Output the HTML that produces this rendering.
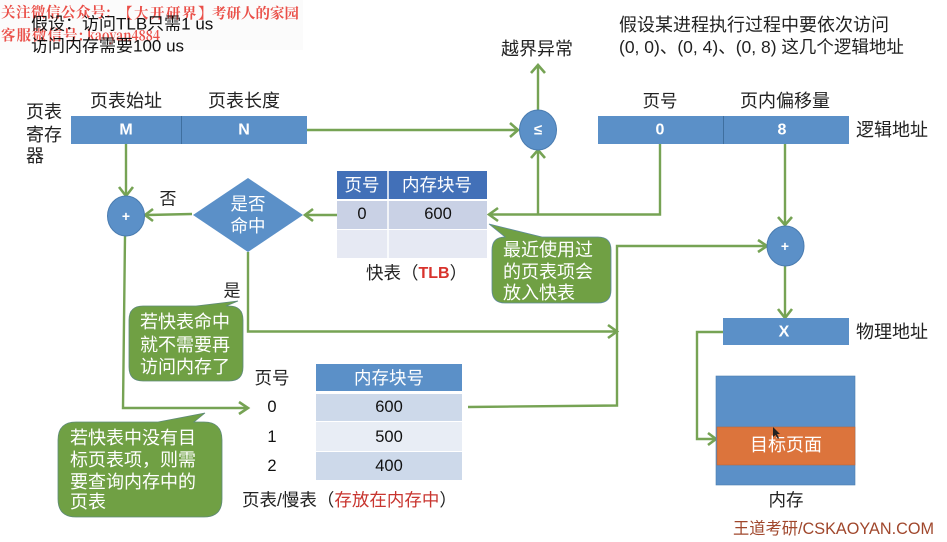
<!DOCTYPE html>
<html><head><meta charset="utf-8">
<style>
html,body{margin:0;padding:0;background:#fff;width:947px;height:542px;overflow:hidden}
svg{display:block;filter:blur(.35px)}
text{font-family:"Liberation Sans","Noto Sans CJK SC",sans-serif;font-size:17.5px;fill:#222;dominant-baseline:central}
.w{fill:#fff}
.c{text-anchor:middle}
.l{fill:none;stroke:#76a354;stroke-width:2.4}
.h{fill:none;stroke:#76a354;stroke-width:2.6}
.r{fill:#d8322c}
.b{font-weight:bold}
.wm{fill:#ea4f48;font-family:"Noto Serif CJK SC","Liberation Serif",serif;font-size:14.500px;font-weight:bold}
</style></head><body>
<svg width="947" height="542" viewBox="0 0 947 542" xmlns="http://www.w3.org/2000/svg">
<rect width="947" height="542" fill="#fff"/>
<rect x="0" y="0" width="303" height="50" fill="#fbfbfb"/>

<!-- watermark -->
<text x="1" y="12" class="wm" style="letter-spacing:.5px">关注微信公众号:</text>
<text x="118" y="13" class="wm" style="letter-spacing:1.500px">【大开研界】</text>
<text x="212" y="13" class="wm">考研人的家园</text>
<text x="1" y="35" class="wm" style="letter-spacing:1px">客服微信号:</text>
<text x="87" y="35" class="wm" textLength="73" lengthAdjust="spacingAndGlyphs">kaoyan4884</text>

<!-- top left text -->
<text x="31" y="24" style="font-size:17px;fill:#111">假设：访问TLB只需1 us</text>
<text x="31" y="46" style="font-size:17px;fill:#111">访问内存需要100 us</text>

<!-- top right text -->
<text x="619" y="25" style="font-size:18px">假设某进程执行过程中要依次访问</text>
<text x="619" y="47" style="font-size:17.500px">(0, 0)、(0, 4)、(0, 8) 这几个逻辑地址</text>

<!-- register -->
<text x="26" y="112" style="font-size:18px">页表</text>
<text x="26" y="135" style="font-size:18px">寄存</text>
<text x="26" y="156" style="font-size:18px">器</text>
<text x="126" y="101" class="c" style="font-size:18px">页表始址</text>
<text x="244" y="101" class="c" style="font-size:18px">页表长度</text>
<rect x="71" y="116" width="236" height="28" fill="#5b90c8"/>
<line x1="181.500" y1="116" x2="181.500" y2="144" stroke="#3f6f9f"/>
<text x="126" y="130" class="w c b" style="font-size:16px">M</text>
<text x="244" y="130" class="w c b" style="font-size:16px">N</text>

<!-- logical address -->
<text x="660" y="101" class="c" style="font-size:17.500px">页号</text>
<text x="785" y="101" class="c" style="font-size:18px">页内偏移量</text>
<rect x="598" y="116" width="251" height="28" fill="#5b90c8"/>
<line x1="723.500" y1="116" x2="723.500" y2="144" stroke="#3f6f9f"/>
<text x="660" y="130" class="w c b" style="font-size:16px">0</text>
<text x="782" y="130" class="w c b" style="font-size:16px">8</text>
<text x="856" y="130" style="font-size:18px">逻辑地址</text>

<text x="537" y="49" class="c" style="font-size:18px">越界异常</text>

<!-- connectors -->
<path class="l" d="M307 130H517"/><path class="h" d="M510 123L518 130L510 137"/>
<path class="l" d="M538 110V67"/><path class="h" d="M531 73L538 65L545 73"/>
<path class="l" d="M538 214V152"/><path class="h" d="M531 158L538 150L545 158"/>
<path class="l" d="M660 144V214.500H491"/><path class="h" d="M498 208L489 214.500L498 221"/>
<path class="l" d="M785 144V224"/><path class="h" d="M778 217L785 225L792 217"/>
<path class="l" d="M785 266V316"/><path class="h" d="M778 309L785 318L792 309"/>
<path class="l" d="M126 144V194"/><path class="h" d="M119 187L126 196L133 187"/>
<path class="l" d="M337 215H306"/><path class="h" d="M313 209L305 215L313 221"/>
<path class="l" d="M192 214L147 215"/><path class="h" d="M153 209L145 215L153 221"/>
<path class="l" d="M125 236L123 408H246"/><path class="h" d="M239 402L248 408L239 414"/>
<path class="l" d="M248 252V331.500H615"/><path class="h" d="M608 325L617 331.500L608 338"/>
<path class="l" d="M468 407L617 405.500V246H765"/><path class="h" d="M758 240L767 246L758 252"/>
<path class="l" d="M723 332H697V439H714"/><path class="h" d="M708 433L716 439L708 445"/>

<!-- circles -->
<ellipse cx="538" cy="130" rx="18.500" ry="20" fill="#5b90c8" stroke="#4a7cb0"/>
<text x="538" y="130" class="w c b" style="font-size:15px">≤</text>
<ellipse cx="126" cy="216" rx="18.500" ry="20" fill="#5b90c8" stroke="#4a7cb0"/>
<text x="126" y="216" class="w c b" style="font-size:14px">+</text>
<ellipse cx="785.500" cy="246" rx="18.500" ry="20" fill="#5b90c8" stroke="#4a7cb0"/>
<text x="785" y="246" class="w c b" style="font-size:14px">+</text>

<!-- diamond -->
<polygon points="193,215 248,178 303,215 248,252" fill="#5b90c8"/>
<text x="248" y="204" class="w c" style="font-size:17.500px">是否</text>
<text x="248" y="226" class="w c" style="font-size:17.500px">命中</text>
<text x="168" y="199" class="c" style="font-size:17px">否</text>
<text x="232" y="291" class="c" style="font-size:17px">是</text>

<!-- TLB -->
<rect x="337" y="171" width="150" height="28" fill="#4270b8"/>
<rect x="337" y="201" width="150" height="28" fill="#c9d1e5"/>
<rect x="337" y="230" width="150" height="28" fill="#e6e9f3"/>
<line x1="388" y1="171" x2="388" y2="258" stroke="#fff" stroke-width="1.500"/>
<text x="362" y="185" class="w c" style="font-size:17.500px">页号</text>
<text x="437" y="185" class="w c" style="font-size:17.500px">内存块号</text>
<text x="362" y="214" class="c" style="font-size:16.500px;fill:#111">0</text>
<text x="438" y="214" class="c" style="font-size:16.500px;fill:#111">600</text>
<text x="366" y="273" style="font-size:17.500px">快表（<tspan class="r b" style="font-size:16px">TLB</tspan>）</text>

<!-- callout 2 -->
<path d="M505 237Q492 237 492 250V290Q492 303 505 303H598Q611 303 611 290V250Q611 237 598 237H542L489 224Z" fill="#70a044" stroke="#5e8a9a" stroke-width=".8"/>
<text x="503" y="250" class="w" style="font-size:18px">最近使用过</text>
<text x="503" y="272" class="w" style="font-size:18px">的页表项会</text>
<text x="503" y="293" class="w" style="font-size:18px">放入快表</text>

<!-- callout 1 -->
<path d="M143 306Q129 306 129 320V367Q129 381 143 381H229Q243 381 243 367V320Q243 306 229 306H226L238 301L196 306Z" fill="#70a044" stroke="#5e8a7a" stroke-width=".8"/>
<text x="140" y="322" class="w" style="font-size:18px">若快表命中</text>
<text x="140" y="345" class="w" style="font-size:18px">就不需要再</text>
<text x="140" y="367" class="w" style="font-size:18px">访问内存了</text>

<!-- callout 3 -->
<path d="M76 422Q58 422 58 440V499Q58 517 76 517H204Q222 517 222 499V440Q222 422 204 422H194L205 413L158 422Z" fill="#70a044" stroke="#5e8a7a" stroke-width=".8"/>
<text x="70" y="438" class="w" style="font-size:18px">若快表中没有目</text>
<text x="70" y="460" class="w" style="font-size:18px">标页表项，则需</text>
<text x="70" y="482" class="w" style="font-size:18px">要查询内存中的</text>
<text x="70" y="502" class="w" style="font-size:18px">页表</text>

<!-- page table -->
<text x="272" y="378" class="c" style="font-size:17.500px">页号</text>
<text x="272" y="407" class="c" style="font-size:16.500px;fill:#111">0</text>
<text x="272" y="437" class="c" style="font-size:16.500px;fill:#111">1</text>
<text x="272" y="466" class="c" style="font-size:16.500px;fill:#111">2</text>
<rect x="316" y="364" width="146" height="27" fill="#5b90c8"/>
<rect x="316" y="394" width="146" height="27" fill="#cdd9ea"/>
<rect x="316" y="422" width="146" height="29" fill="#e8edf5"/>
<rect x="316" y="452" width="146" height="28" fill="#cdd9ea"/>
<text x="389" y="378" class="w c" style="font-size:17.500px">内存块号</text>
<text x="389" y="407" class="c" style="font-size:16.500px;fill:#111">600</text>
<text x="389" y="437" class="c" style="font-size:16.500px;fill:#111">500</text>
<text x="389" y="466" class="c" style="font-size:16.500px;fill:#111">400</text>
<text x="242" y="500" style="font-size:17.500px">页表/慢表（<tspan style="fill:#c8352f">存放在内存中</tspan>）</text>

<!-- physical -->
<rect x="723" y="318" width="126" height="27" fill="#5b90c8"/>
<text x="784" y="332" class="w c b" style="font-size:16px">X</text>
<text x="856" y="332" style="font-size:18px">物理地址</text>

<!-- memory -->
<rect x="716" y="376" width="139" height="109" fill="#5b90c8" stroke="#4a7cb0" stroke-width=".6"/>
<rect x="717" y="427" width="138" height="38" fill="#dc743c" stroke="#b8693f" stroke-width=".6"/>
<text x="786" y="445" class="w c" style="font-size:18px">目标页面</text>
<text x="786" y="500" class="c" style="font-size:17.500px">内存</text>
<path d="M773 427L773 437L775.500 435L778 439L779 438L777 434L780 434Z" fill="#222"/>

<text x="733" y="529" style="font-size:16.500px;fill:#a0472c" textLength="201" lengthAdjust="spacingAndGlyphs">王道考研/CSKAOYAN.COM</text>
</svg>
</body></html>
